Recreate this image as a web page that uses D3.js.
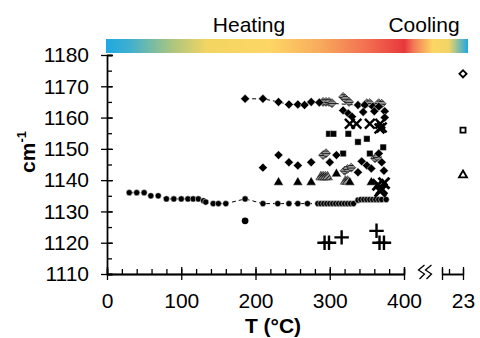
<!DOCTYPE html>
<html>
<head>
<meta charset="utf-8">
<script src="https://cdn.jsdelivr.net/npm/d3@7"></script>
<style>
  body { margin: 0; background: #fff; }
  text { font-family: "Liberation Sans", Arial, sans-serif; }
</style>
</head>
<body>
<div id="chart"></div>
<script>
// tick values
const xTicks = [0, 100, 200, 300, 400];
const xMinor = d3.range(0, 401, 20);
const yTicks = [1110, 1120, 1130, 1140, 1150, 1160, 1170, 1180];
const yMinor = d3.range(1110, 1181, 5);

// series: [T (°C), wavenumber (cm-1)]
const lowLine = [[30,1136],[40,1136],[50,1136],[59,1135],[69,1135],[80,1134],[90,1134],[100,1134],
  [109,1134],[116,1134],[123,1134],[130,1133.4],[133,1133],[143,1132.5],[150,1132.5],[160,1132.5],
  [186,1134],[210,1132.5],[230,1132.5],[245,1132.5],[257,1132.5],[270,1132.5],[284,1132.5],
  [288,1132.5],[292,1132.5],[296,1132.5],[300,1132.5],[304,1132.5],[308,1132.5],[312,1132.5],
  [316,1132.5],[320,1132.5],[324,1132.5],[328,1132.5],[332,1132.5],[338,1133.6],[342,1133.8],
  [346,1133.8],[350,1133.8],[354,1133.8],[358,1133.8],[362,1133.8],[366,1133.8],[370,1133.8],[376,1133.8]];
const lonePoint = [[186,1127]];
const topLine = [[186,1166],[210,1166],[231,1165],[245,1164.2],[257,1164.2],[266,1164],[275,1165],
  [286,1164.8],[338,1164],[347,1164],[358,1163.5],[366,1163.5],[374,1162]];
const topHatched = [[291,1165],[295,1165],[299,1165],[303,1164.6],[318,1166.6],[321,1166],[326,1165],
  [350,1164.6],[354,1164.6],[366,1164.6],[370,1164.4]];
const topDiamonds = [[318,1162.3],[325,1161.3],[330,1160.3],[345,1161.8],[360,1162],[374,1160]];
const crosses = [[327,1158],[336,1158],[354,1158],[367,1156.5],[370,1156.8],[368,1158]];
const squares = [[299,1154.8],[305,1154.8],[325,1154.8],[338,1152.2],[350,1153.2],[372,1150.5],
  [318,1148.5],[354,1148.5]];
const lowDiamonds = [[210,1144],[231,1148],[245,1145.7],[257,1144.7],[275,1145.7],[300,1145.7],
  [309,1148],[338,1142.5],[343,1146],[350,1144.7],[356,1143.7],[366,1148.5],[370,1145.7],[373,1143]];
const lowHatched = [[291,1148],[295,1148.6],[320,1143],[324,1143.6],[329,1144],[361,1147],[364,1147.4]];
const triangles = [[231,1139.3],[257,1139.3],[275,1139.3],[309,1142],[327,1139.3],[356,1139.3]];
const triHatched = [[288,1141],[291,1141],[294,1141],[297,1141],[321,1139.6],[324,1139.6]];
const bigCross = [[365,1138.5],[370,1137.2],[373,1139],[368,1136.5]];
const pluses = [[293,1120],[299,1120],[316,1121.7],[363,1123.8],[367,1120],[373,1120]];

// room-temperature reference at 23 °C
const rtDiamond = [[23,1174]];
const rtSquare = [[23,1156]];
const rtTriangle = [[23,1141.6]];

const W = 480, H = 338;
const svg = d3.select("#chart").append("svg").attr("width", W).attr("height", H);

const x = d3.scaleLinear().domain([0, 400]).range([107, 404]);
const x2 = d3.scaleLinear().domain([20, 23]).range([442, 463]);
const y = d3.scaleLinear().domain([1110, 1180]).range([274, 55]);

// hatch pattern for the grey striped markers
const defs = svg.append("defs");
const pat = defs.append("pattern").attr("id", "hatch").attr("patternUnits", "userSpaceOnUse")
  .attr("width", 2.6).attr("height", 2.6).attr("patternTransform", "rotate(45)");
pat.append("rect").attr("width", 2.6).attr("height", 2.6).attr("fill", "#999");
pat.append("line").attr("x1", 0).attr("y1", 0).attr("x2", 0).attr("y2", 2.6)
  .attr("stroke", "#000").attr("stroke-width", 1.5);

// colour bar
const heat = defs.append("linearGradient").attr("id", "heat");
[["0%","#1ea8e2"],["8%","#3fb0cf"],["22%","#aac57f"],["34%","#f3d562"],["55%","#fdd664"],
 ["72%","#f8aa5c"],["88%","#f26d50"],["100%","#e8383c"]]
  .forEach(s => heat.append("stop").attr("offset", s[0]).attr("stop-color", s[1]));
const cool = defs.append("linearGradient").attr("id", "cool");
[["0%","#e6343b"],["15%","#f27a55"],["45%","#fdd664"],["70%","#f0d466"],["100%","#1ea8e2"]]
  .forEach(s => cool.append("stop").attr("offset", s[0]).attr("stop-color", s[1]));
svg.append("rect").attr("x", 106).attr("y", 39).attr("width", x(400) - 106).attr("height", 14)
  .attr("fill", "url(#heat)");
svg.append("rect").attr("x", x(400)).attr("y", 39).attr("width", 468 - x(400)).attr("height", 14)
  .attr("fill", "url(#cool)");
svg.append("text").attr("x", 249).attr("y", 32).attr("text-anchor", "middle")
  .attr("font-size", 21).text("Heating");
svg.append("text").attr("x", 424).attr("y", 32).attr("text-anchor", "middle")
  .attr("font-size", 21).text("Cooling");

// axes
function styleAxis(g) {
  g.select(".domain").attr("stroke", "#000").attr("stroke-width", 1.3);
  g.selectAll(".tick line").attr("stroke", "#000").attr("stroke-width", 1.3);
  g.selectAll("text").attr("font-size", 21).attr("fill", "#000")
    .attr("font-family", "\"Liberation Sans\", Arial, sans-serif");
}
svg.append("g").attr("transform", `translate(0,${y(1110)})`)
  .call(d3.axisTop(x).tickValues(xMinor).tickSize(5).tickFormat(""))
  .call(styleAxis);
svg.append("g").attr("transform", `translate(0,${y(1110)})`)
  .call(d3.axisTop(x).tickValues(xTicks).tickSize(7).tickFormat(""))
  .call(styleAxis);
svg.append("g").attr("transform", `translate(0,${y(1110)})`)
  .call(d3.axisBottom(x).tickValues(xTicks).tickSize(6).tickSizeOuter(0).tickPadding(13)
    .tickFormat(d3.format("d")))
  .call(styleAxis);

svg.append("g").attr("transform", `translate(0,${y(1110)})`)
  .call(d3.axisTop(x2).tickValues([21]).tickSize(5).tickFormat(""))
  .call(styleAxis);
svg.append("g").attr("transform", `translate(0,${y(1110)})`)
  .call(d3.axisTop(x2).tickValues([20, 23]).tickSize(7).tickFormat("").tickSizeOuter(0))
  .call(styleAxis);
svg.append("g").attr("transform", `translate(0,${y(1110)})`)
  .call(d3.axisBottom(x2).tickValues([20, 23]).tickSize(6).tickSizeOuter(0).tickPadding(13)
    .tickFormat(d => d === 23 ? "23" : ""))
  .call(styleAxis);

// axis break
const bx = 425, by = y(1110) - 2;
[-3.5, 3.5].forEach(dx => {
  svg.append("path")
    .attr("d", `M${bx + dx + 3},${by - 7}L${bx + dx - 3},${by - 2}L${bx + dx + 3},${by + 2}L${bx + dx - 2},${by + 7}`)
    .attr("fill", "none").attr("stroke", "#000").attr("stroke-width", 1.3);
});

svg.append("g").attr("transform", `translate(${x(0)},0)`)
  .call(d3.axisRight(y).tickValues(yMinor).tickSize(5).tickFormat(""))
  .call(styleAxis);
svg.append("g").attr("transform", `translate(${x(0)},0)`)
  .call(d3.axisRight(y).tickValues(yTicks).tickSize(6).tickFormat(""))
  .call(styleAxis);
svg.append("g").attr("transform", `translate(${x(0)},0)`)
  .call(d3.axisLeft(y).tickValues(yTicks).tickSize(6).tickSizeOuter(0).tickPadding(12)
    .tickFormat(d3.format("d")))
  .call(styleAxis);

// axis titles
svg.append("text").attr("x", 273).attr("y", 333).attr("text-anchor", "middle")
  .attr("font-size", 21).attr("font-weight", "bold").text("T (°C)");
const yl = svg.append("text").attr("transform", "translate(35,152) rotate(-90)")
  .attr("text-anchor", "middle").attr("font-size", 21).attr("font-weight", "bold");
yl.append("tspan").text("cm");
yl.append("tspan").attr("font-size", 13).attr("dy", -9).text("-1");

// lines
const line = d3.line().x(d => x(d[0])).y(d => y(d[1]));
[lowLine, topLine].forEach(data => {
  svg.append("path").datum(data).attr("d", line).attr("fill", "none")
    .attr("stroke", "#000").attr("stroke-width", 1).attr("stroke-dasharray", "4,3");
});

// markers
function marks(data, type, size, opts, sx = x) {
  const o = Object.assign({ fill: "#000", stroke: "none", sw: 0, rot: 0 }, opts);
  svg.append("g").selectAll("path").data(data).join("path")
    .attr("transform", d => `translate(${sx(d[0])},${y(d[1])}) rotate(${o.rot})`)
    .attr("d", d3.symbol().type(type).size(size))
    .attr("fill", o.fill).attr("stroke", o.stroke).attr("stroke-width", o.sw);
}
marks(lowLine, d3.symbolCircle, 30, { stroke: "#fff", sw: 0.5 });
marks(lonePoint, d3.symbolCircle, 36, {});
marks(topHatched, d3.symbolSquare, 40, { fill: "url(#hatch)", stroke: "#111", sw: 0.6, rot: 45 });
marks(topLine, d3.symbolSquare, 40, { stroke: "#fff", sw: 0.4, rot: 45 });
marks(topDiamonds, d3.symbolSquare, 40, { stroke: "#fff", sw: 0.4, rot: 45 });
marks(crosses, d3.symbolTimes, 64, { fill: "none", stroke: "#000", sw: 2.4 });
marks(squares, d3.symbolSquare, 40, { stroke: "#fff", sw: 0.4 });
marks(lowHatched, d3.symbolSquare, 40, { fill: "url(#hatch)", stroke: "#111", sw: 0.6, rot: 45 });
marks(lowDiamonds, d3.symbolSquare, 40, { stroke: "#fff", sw: 0.4, rot: 45 });
marks(triHatched, d3.symbolTriangle, 42, { fill: "url(#hatch)", stroke: "#111", sw: 0.6 });
marks(triangles, d3.symbolTriangle, 42, { stroke: "#fff", sw: 0.4 });
marks(bigCross, d3.symbolTimes, 80, { fill: "none", stroke: "#000", sw: 3 });
marks(pluses, d3.symbolPlus, 70, { fill: "none", stroke: "#000", sw: 2.4 });

marks(rtDiamond, d3.symbolSquare, 26, { fill: "#fff", stroke: "#000", sw: 1.8, rot: 45 }, x2);
marks(rtSquare, d3.symbolSquare, 26, { fill: "#fff", stroke: "#000", sw: 1.8 }, x2);
marks(rtTriangle, d3.symbolTriangle, 28, { fill: "#fff", stroke: "#000", sw: 1.8 }, x2);
</script>
</body>
</html>
